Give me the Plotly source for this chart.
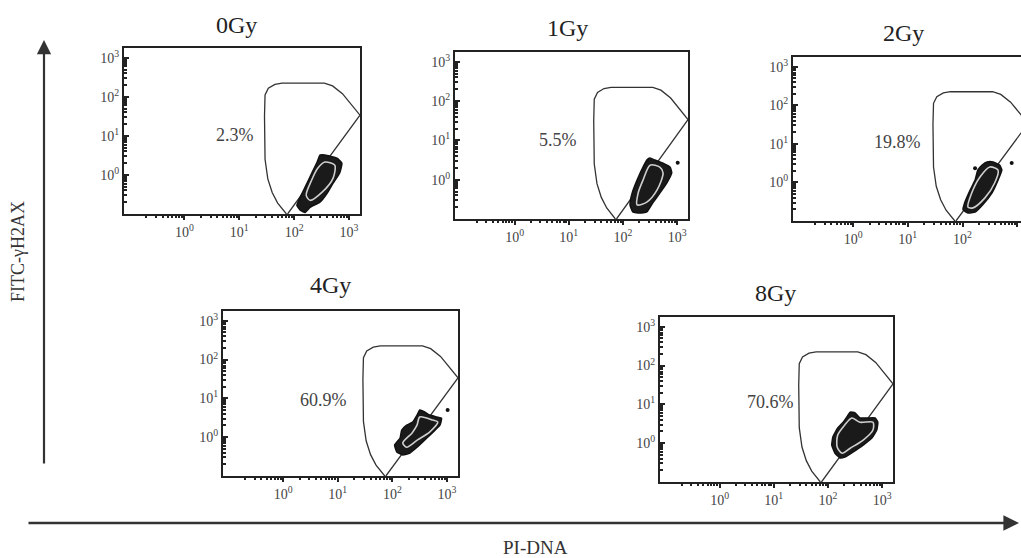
import plotly.graph_objects as go

# ---------------- data (log10 units) ----------------
panels = ["0Gy", "1Gy", "2Gy", "4Gy", "8Gy"]
percents = ["2.3%", "5.5%", "19.8%", "60.9%", "70.6%"]
pct_x = [0.92, 0.80, 0.82, 0.73, 0.93]
pct_y = [1.02, 1.01, 1.05, 0.96, 1.06]

tick_vals = [1, 10, 100, 1000]
tick_text = ["10<sup>0</sup>", "10<sup>1</sup>", "10<sup>2</sup>", "10<sup>3</sup>"]

# gate polygon (same gate on every panel)
gate_x = [1.86, 1.70, 1.60, 1.52, 1.47, 1.46, 1.47, 1.53, 1.65, 1.78, 2.55, 2.70, 2.88, 3.20, 1.88]
gate_y = [-1.00, -0.72, -0.45, -0.10, 0.40, 1.50, 2.05, 2.22, 2.32, 2.35, 2.35, 2.28, 2.08, 1.53, -1.00]

# outer contours of the cell clusters
outer_x = [
    [2.47, 2.56, 2.78, 2.87, 2.83, 2.71, 2.60, 2.47, 2.29, 2.20, 2.11, 2.05, 2.11, 2.20, 2.32, 2.42],
    [2.50, 2.59, 2.74, 2.87, 2.90, 2.81, 2.68, 2.55, 2.44, 2.31, 2.18, 2.13, 2.17, 2.26, 2.37, 2.44],
    [2.45, 2.56, 2.68, 2.72, 2.65, 2.54, 2.37, 2.23, 2.10, 2.01, 2.04, 2.14, 2.23, 2.28, 2.36],
    [2.50, 2.59, 2.68, 2.81, 2.90, 2.87, 2.78, 2.63, 2.45, 2.32, 2.19, 2.08, 2.04, 2.14, 2.17, 2.26, 2.37, 2.45],
    [2.41, 2.50, 2.59, 2.74, 2.87, 2.92, 2.90, 2.81, 2.65, 2.46, 2.31, 2.22, 2.13, 2.07, 2.09, 2.18, 2.28, 2.37],
]
outer_y = [
    [0.51, 0.51, 0.43, 0.30, 0.05, -0.21, -0.47, -0.70, -0.83, -0.96, -0.90, -0.78, -0.57, -0.31, 0.04, 0.33],
    [0.55, 0.50, 0.42, 0.32, 0.17, -0.08, -0.34, -0.59, -0.82, -0.85, -0.82, -0.64, -0.34, -0.01, 0.32, 0.50],
    [0.53, 0.53, 0.45, 0.32, 0.06, -0.27, -0.58, -0.77, -0.79, -0.71, -0.53, -0.20, 0.06, 0.32, 0.45],
    [0.70, 0.65, 0.57, 0.52, 0.49, 0.31, 0.18, -0.02, -0.26, -0.41, -0.46, -0.38, -0.20, -0.02, 0.18, 0.31, 0.39, 0.57],
    [0.80, 0.78, 0.65, 0.65, 0.65, 0.54, 0.34, 0.13, -0.05, -0.23, -0.36, -0.38, -0.26, -0.05, 0.16, 0.39, 0.54, 0.72],
]
# inner (light) contours
inner_x = [
    [2.56, 2.74, 2.71, 2.51, 2.29, 2.22, 2.32, 2.43],
    [2.50, 2.68, 2.74, 2.63, 2.44, 2.26, 2.28, 2.37],
    [2.50, 2.65, 2.59, 2.41, 2.19, 2.10, 2.17, 2.32],
    [2.50, 2.74, 2.83, 2.68, 2.46, 2.26, 2.19, 2.36, 2.45],
    [2.44, 2.59, 2.83, 2.83, 2.65, 2.41, 2.26, 2.17, 2.18, 2.31],
]
inner_y = [
    [0.33, 0.25, -0.08, -0.44, -0.65, -0.52, -0.13, 0.17],
    [0.37, 0.32, 0.17, -0.26, -0.57, -0.64, -0.34, -0.01],
    [0.40, 0.32, -0.01, -0.40, -0.66, -0.64, -0.27, 0.14],
    [0.52, 0.44, 0.39, 0.13, -0.07, -0.26, -0.15, 0.11, 0.31],
    [0.65, 0.54, 0.54, 0.34, 0.08, -0.13, -0.26, -0.10, 0.21, 0.47],
]
# isolated events
dots_x = [[], [3.01], [2.90, 2.23], [3.01], []]
dots_y = [[], [0.43], [0.50, 0.37], [0.70], []]

# ---------------- layout geometry ----------------
W, H = 1021, 558
frames = [  # left, right, top, bottom in pixels
    (124, 360, 48, 214),
    (455, 688, 52, 219),
    (793, 1021, 57, 221),
    (223, 458, 311, 476),
    (660, 893, 317, 482),
]
x_ranges = [[-1.1, 3.2], [-1.1, 3.2], [-1.1, 3.07], [-1.1, 3.2], [-1.1, 3.2]]
y_range = [-1.0, 3.25]
title_pos = [(236, 25), (567, 28), (903, 33), (330, 285), (775, 293)]

minor_vals = [m * 10 ** e for e in range(-1, 3) for m in range(2, 10)]

SERIF = "Liberation Serif, Times New Roman, serif"
INK = "#222222"

fig = go.Figure()
layout = dict(
    width=W, height=H, margin=dict(l=0, r=0, t=0, b=0),
    paper_bgcolor="white", plot_bgcolor="white", showlegend=False,
)
annotations = []

for i, name in enumerate(panels):
    n = i + 1
    xa = "x" if n == 1 else f"x{n}"
    ya = "y" if n == 1 else f"y{n}"
    l, r, t, b = frames[i]
    layout[f"xaxis{'' if n == 1 else n}"] = dict(
        domain=[l / W, r / W], anchor=ya, type="log", range=x_ranges[i],
        showgrid=False, zeroline=False, showline=True, mirror=True,
        linecolor=INK, linewidth=2,
        tickmode="array", tickvals=tick_vals, ticktext=tick_text,
        ticks="outside", ticklen=4, tickcolor=INK, tickwidth=1.5,
        minor=dict(tickmode="array", tickvals=minor_vals, ticks="outside",
                   ticklen=2, tickcolor=INK, showgrid=False),
        tickfont=dict(family=SERIF, size=14, color="#444"),
        fixedrange=True,
    )
    layout[f"yaxis{'' if n == 1 else n}"] = dict(
        domain=[1 - b / H, 1 - t / H], anchor=xa, type="log", range=y_range,
        showgrid=False, zeroline=False, showline=True, mirror=(n != 3),
        linecolor=INK, linewidth=2,
        tickmode="array", tickvals=tick_vals, ticktext=tick_text,
        ticks="inside", ticklen=5, tickcolor=INK, tickwidth=2,
        minor=dict(tickmode="array", tickvals=minor_vals, ticks="inside",
                   ticklen=3, tickcolor=INK, showgrid=False),
        tickfont=dict(family=SERIF, size=14, color="#444"),
        fixedrange=True,
    )

    # gate
    fig.add_trace(go.Scatter(
        x=[10 ** v for v in gate_x], y=[10 ** v for v in gate_y],
        mode="lines", line=dict(color="#333", width=1.3),
        xaxis=xa, yaxis=ya, hoverinfo="skip",
    ))
    # cluster outer contour (filled dark)
    ox = outer_x[i] + [outer_x[i][0]]
    oy = outer_y[i] + [outer_y[i][0]]
    fig.add_trace(go.Scatter(
        x=[10 ** v for v in ox], y=[10 ** v for v in oy],
        mode="lines", fill="toself", fillcolor="#1a1a1a",
        line=dict(color="#111", width=1.5, shape="spline", smoothing=0.4),
        xaxis=xa, yaxis=ya, hoverinfo="skip",
    ))
    # inner light contour
    ix = inner_x[i] + [inner_x[i][0]]
    iy = inner_y[i] + [inner_y[i][0]]
    fig.add_trace(go.Scatter(
        x=[10 ** v for v in ix], y=[10 ** v for v in iy],
        mode="lines", line=dict(color="#cfcfcf", width=1.6, shape="spline", smoothing=0.8),
        xaxis=xa, yaxis=ya, hoverinfo="skip",
    ))
    if dots_x[i]:
        fig.add_trace(go.Scatter(
            x=[10 ** v for v in dots_x[i]], y=[10 ** v for v in dots_y[i]],
            mode="markers", marker=dict(color="#111", size=4),
            xaxis=xa, yaxis=ya, hoverinfo="skip",
        ))

    # percentage label (log coords for annotations on log axes)
    annotations.append(dict(
        x=pct_x[i], y=pct_y[i], xref=xa, yref=ya, text=percents[i],
        xanchor="center", yanchor="middle",
        showarrow=False, font=dict(family=SERIF, size=18, color="#444"),
    ))
    # panel title
    tx, ty = title_pos[i]
    annotations.append(dict(
        x=tx / W, y=1 - ty / H, xref="paper", yref="paper", text=name,
        xanchor="center", yanchor="middle",
        showarrow=False, font=dict(family=SERIF, size=24, color="#222"),
    ))

# big axis arrows
annotations.append(dict(
    x=44 / W, y=1 - 40 / H, xref="paper", yref="paper", text="",
    showarrow=True, ax=0, ay=425, arrowhead=2, arrowsize=1.3, arrowwidth=2.2,
    arrowcolor="#333",
))
annotations.append(dict(
    x=1019 / W, y=1 - 523 / H, xref="paper", yref="paper", text="",
    showarrow=True, ax=-992, ay=0, arrowhead=2, arrowsize=1.3, arrowwidth=2.4,
    arrowcolor="#333",
))
annotations.append(dict(
    x=18 / W, y=1 - 252 / H, xref="paper", yref="paper", text="FITC-γH2AX",
    xanchor="center", yanchor="middle",
    textangle=-90, showarrow=False, font=dict(family=SERIF, size=18, color="#333"),
))
annotations.append(dict(
    x=535 / W, y=1 - 547 / H, xref="paper", yref="paper", text="PI-DNA",
    xanchor="center", yanchor="middle",
    showarrow=False, font=dict(family=SERIF, size=19, color="#333"),
))

layout["annotations"] = annotations
fig.update_layout(**layout)
fig.write_html("out.html")
